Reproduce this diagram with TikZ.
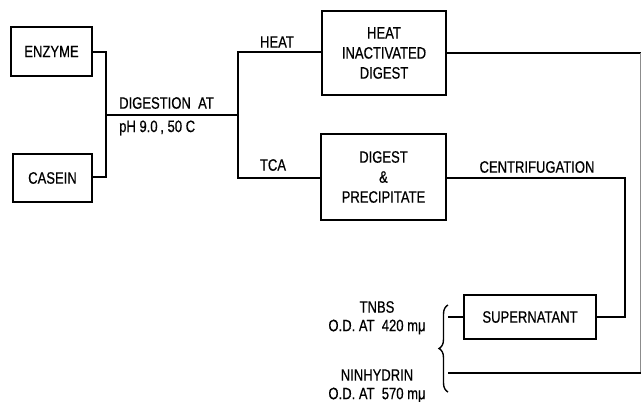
\documentclass[tikz,border=0pt]{standalone}
\usepackage{fontspec}
\setmainfont{Liberation Sans}[FakeStretch=0.79,FakeBold=0.6]
\usetikzlibrary{decorations.pathreplacing}
\begin{document}
\begin{tikzpicture}[x=1pt,y=-1pt,
  box/.style={draw,line width=1.7pt,inner sep=0pt,align=center},
  conn/.style={line width=2.6pt},
  lbl/.style={inner sep=0pt,align=center}]
\useasboundingbox (0,0) rectangle (641,402);
\tikzset{every node/.style={font=\fontsize{16.5}{20}\selectfont}}
% boxes
\node[box,minimum width=81pt,minimum height=49pt] (enz) at (51.5,51.5) {ENZYME};
\node[box,minimum width=79pt,minimum height=48pt] (cas) at (52.5,178) {CASEIN};
\node[box,minimum width=124pt,minimum height=84pt] (hid) at (384,53) {HEAT\\INACTIVATED\\DIGEST};
\node[box,minimum width=125pt,minimum height=86pt] (dp) at (383.5,177) {DIGEST\\\&\\PRECIPITATE};
\node[box,minimum width=132pt,minimum height=44pt] (sup) at (530,317) {SUPERNATANT};
% labels
\node[lbl,anchor=west] (dig1) at (119,103) {DIGESTION\ \ AT};
\node[lbl,anchor=west] (dig2) at (119,128) {pH 9.0\,, 50 C};
\node[lbl] (heat) at (277,42) {HEAT};
\node[lbl] (tca) at (273,165) {TCA};
\node[lbl] (cent) at (537,167) {CENTRIFUGATION};
\node[lbl] (tnbs) at (377,307) {TNBS};
\node[lbl] (od1) at (377,327) {O.D.\ AT\ \ 420\ mμ};
\node[lbl] (nin) at (377,375) {NINHYDRIN};
\node[lbl] (od2) at (377,395) {O.D.\ AT\ \ 570\ mμ};
% junction coordinates
\coordinate (j1) at (106,115);
\coordinate (j2) at (238,115);
\coordinate (bt) at (448,305);
\coordinate (bb) at (448,392);
\coordinate (bs) at (448,317);
\coordinate (bn) at (448,373);
% connectors
\draw[conn] (enz.east |- 0,52) -| (j1) |- (cas.east |- 0,177);
\draw[conn] (j1) -- (j2);
\draw[conn] (hid.west |- 0,52) -| (j2) |- (dp.west |- 0,178);
\draw[conn] (hid.east |- 0,53) -- (641,53);
\draw[line width=1pt,black!45] (640,53) -- (640,373);
\draw[conn] (641,373) -- (bn);
\draw[conn] (dp.east |- 0,178) -| (625,317) -- (sup.east |- 0,317);
\draw[line width=2pt] (sup.west |- 0,317) -- (bs);
\draw[line width=1.4pt,decorate,decoration={brace,amplitude=9pt}] (bb) -- (bt);
\end{tikzpicture}
\end{document}
